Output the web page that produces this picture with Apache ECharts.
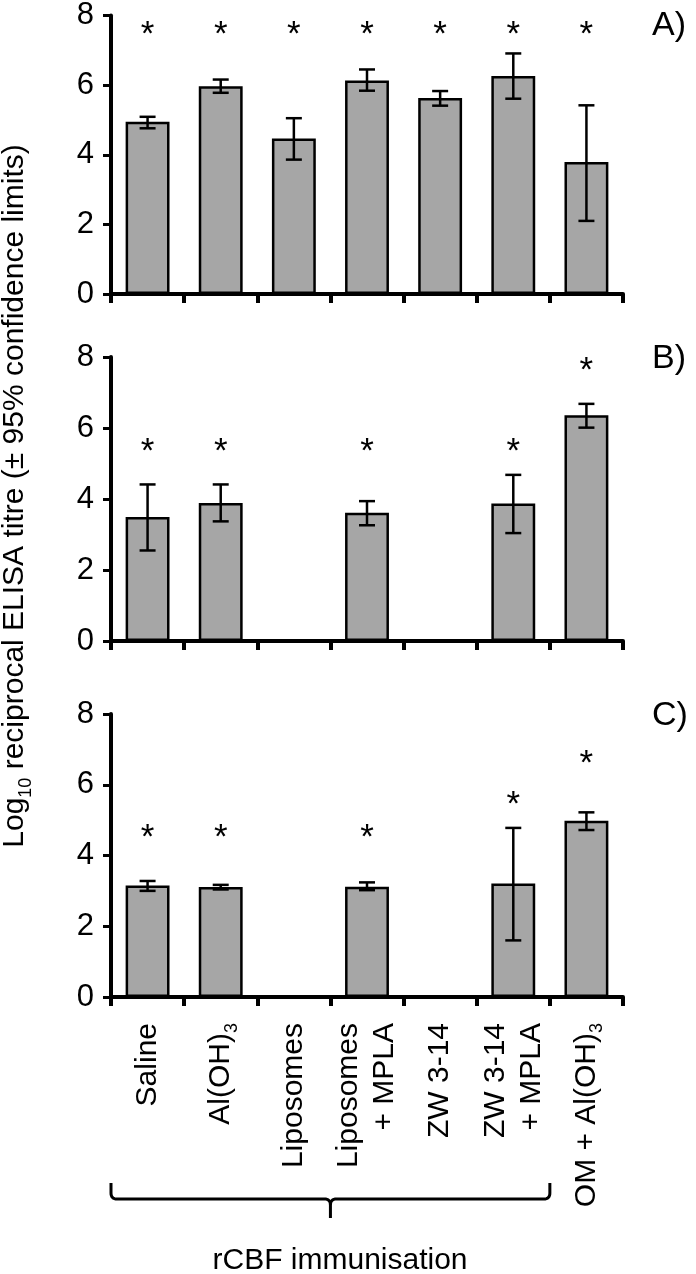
<!DOCTYPE html>
<html><head><meta charset="utf-8">
<script src="https://cdn.jsdelivr.net/npm/echarts@6/dist/echarts.min.js"></script>
<style>html,body{margin:0;padding:0;background:#fff}#c{width:696px;height:1274px}</style>
</head><body><div id="c"></div>
<script>
// ---- data ----
const categories = ['Saline', 'Al(OH)3', 'Liposomes', 'Liposomes\n+ MPLA', 'ZW 3-14', 'ZW 3-14\n+ MPLA', 'OM + Al(OH)3'];
const yTicks = [0, 2, 4, 6, 8];
const panelNames = ['A)', 'B)', 'C)'];
const yAxisTitle = 'Log{s|10} reciprocal ELISA titre (\u00b1 95% confidence limits)';
const groupTitle = 'rCBF immunisation';

const valuesA = [4.95, 5.97, 4.47, 6.13, 5.63, 6.26, 3.79];
const lowA    = [4.76, 5.78, 3.86, 5.84, 5.41, 5.61, 2.10];
const highA   = [5.09, 6.16, 5.05, 6.45, 5.83, 6.91, 5.42];
const starA   = [7.65, 7.65, 7.65, 7.65, 7.65, 7.65, 7.65];

const valuesB = [3.49, 3.89, null, 3.61, null, 3.87, 6.36];
const lowB    = [2.55, 3.37, null, 3.26, null, 3.04, 6.01];
const highB   = [4.41, 4.41, null, 3.94, null, 4.68, 6.68];
const starB   = [5.54, 5.54, null, 5.54, null, 5.54, 7.83];

const valuesC = [3.15, 3.11, null, 3.12, null, 3.21, 4.98];
const lowC    = [3.00, 3.04, null, 3.02, null, 1.60, 4.72];
const highC   = [3.28, 3.17, null, 3.24, null, 4.78, 5.22];
const starC   = [4.72, 4.72, null, 4.72, null, 5.64, 6.79];

const panels = [
  {values: valuesA, low: lowA, high: highA, star: starA},
  {values: valuesB, low: lowB, high: highB, star: starB},
  {values: valuesC, low: lowC, high: highC, star: starC}
];

// ---- layout ----
const FONT = 'Liberation Sans, Arial, sans-serif';
const gridLeft = 111, gridWidth = 512;
const grids = [
  {top: 13, height: 281},
  {top: 357, height: 284},
  {top: 714, height: 283}
];

const chart = echarts.init(document.getElementById('c'), null, {renderer: 'canvas'});

const subRich = {s: {fontSize: 18, fontFamily: FONT, color: '#000', verticalAlign: 'bottom', lineHeight: 40}};

const option = {
  animation: false,
  backgroundColor: '#fff',
  grid: grids.map(g => ({left: gridLeft, width: gridWidth, top: g.top, height: g.height, containLabel: false})),
  xAxis: grids.map((g, k) => ({
    type: 'category', gridIndex: k, data: categories,
    axisLine: {show: true, lineStyle: {color: '#000', width: 4}},
    axisTick: {show: true, interval: 0, length: 9, lineStyle: {color: '#000', width: 4}},
    axisLabel: {
      show: k === 2, interval: 0, rotate: 90, margin: 26,
      fontSize: 30, fontFamily: FONT, color: '#000', lineHeight: 36,
      formatter: v => v.replace(/\)3/g, '){s|3}'),
      rich: subRich
    },
    splitLine: {show: false}
  })),
  yAxis: grids.map((g, k) => ({
    type: 'value', gridIndex: k, min: 0, max: 8, interval: 2,
    axisLine: {show: true, lineStyle: {color: '#000', width: 4}},
    axisTick: {show: true, length: 8, lineStyle: {color: '#000', width: 3}},
    axisLabel: {show: true, fontSize: 31, fontFamily: FONT, color: '#000', margin: 17,
      formatter: v => (yTicks.indexOf(v) >= 0 ? String(v) : '')},
    splitLine: {show: false}
  })),
  series: []
};

panels.forEach((p, k) => {
  option.series.push({
    type: 'bar', xAxisIndex: k, yAxisIndex: k, barWidth: '60%',
    data: p.values.map(v => (v == null ? '-' : v)),
    itemStyle: {color: '#a6a6a6', borderColor: '#000', borderWidth: 2.5},
    silent: true, z: 2
  });
  const errData = [];
  p.low.forEach((lo, i) => { if (lo != null) errData.push([i, lo, p.high[i]]); });
  option.series.push({
    type: 'custom', xAxisIndex: k, yAxisIndex: k, z: 3, silent: true,
    data: errData, encode: {x: 0, y: [1, 2]},
    renderItem: function (params, api) {
      const i = api.value(0);
      const a = api.coord([i, api.value(2)]);
      const b = api.coord([i, api.value(1)]);
      const w = 8;
      const st = {stroke: '#000', lineWidth: 2.5};
      return {type: 'group', children: [
        {type: 'line', shape: {x1: a[0], y1: a[1], x2: b[0], y2: b[1]}, style: st},
        {type: 'line', shape: {x1: a[0] - w, y1: a[1], x2: a[0] + w, y2: a[1]}, style: st},
        {type: 'line', shape: {x1: b[0] - w, y1: b[1], x2: b[0] + w, y2: b[1]}, style: st}
      ]};
    }
  });
  const starData = [];
  p.star.forEach((s, i) => { if (s != null) starData.push([i, s]); });
  option.series.push({
    type: 'custom', xAxisIndex: k, yAxisIndex: k, z: 4, silent: true,
    data: starData, encode: {x: 0, y: 1},
    renderItem: function (params, api) {
      const c = api.coord([api.value(0), api.value(1)]);
      return {type: 'text', x: c[0], y: c[1] + 8,
        style: {text: '*', font: '35px ' + FONT, fill: '#000', align: 'center', verticalAlign: 'middle'}};
    }
  });
});

chart.setOption(option);

// decorations positioned from the axes
const c0 = chart.convertToPixel({xAxisIndex: 2}, categories[0]);
const c1 = chart.convertToPixel({xAxisIndex: 2}, categories[1]);
const c5 = chart.convertToPixel({xAxisIndex: 2}, categories[5]);
const step = c1 - c0;
const bl = c0 - step / 2, br = c5 + step / 2, bm = (bl + br) / 2;
const yTop = 1183, yH = 1199, yBot = 1218, r = 6;

function corner(x0, y0, cx, cy, x1, y1) {
  const pts = [];
  for (let t = 0; t <= 1.0001; t += 0.125) {
    const u = 1 - t;
    pts.push([u * u * x0 + 2 * u * t * cx + t * t * x1, u * u * y0 + 2 * u * t * cy + t * t * y1]);
  }
  return pts;
}
const leftArm = [[bl, yTop]].concat(corner(bl, yH - r, bl, yH, bl + r, yH), corner(bm - r, yH, bm, yH, bm, yH + r), [[bm, yBot]]);
const rightArm = [[br, yTop]].concat(corner(br, yH - r, br, yH, br - r, yH), corner(bm + r, yH, bm, yH, bm, yH + r));

const labelY = [26, 359, 716];
const graphics = panelNames.map((n, k) => ({
  type: 'text', x: 652, y: labelY[k],
  style: {text: n, font: '34px ' + FONT, fill: '#000', align: 'left', verticalAlign: 'middle'}
}));
graphics.push({
  type: 'text', x: 15, y: 496, rotation: Math.PI / 2,
  style: {text: yAxisTitle, font: '30px ' + FONT, fill: '#000', align: 'center', verticalAlign: 'middle',
    rich: {s: {fontSize: 18, fontFamily: FONT, fill: '#000', verticalAlign: 'bottom', lineHeight: 40}}}
});
graphics.push({
  type: 'text', x: 340, y: 1261,
  style: {text: groupTitle, font: '30px ' + FONT, fill: '#000', align: 'center', verticalAlign: 'middle'}
});
graphics.push({type: 'polyline', shape: {points: leftArm}, style: {stroke: '#000', lineWidth: 3, fill: null}});
graphics.push({type: 'polyline', shape: {points: rightArm}, style: {stroke: '#000', lineWidth: 3, fill: null}});
chart.setOption({graphic: graphics});
</script>
</body></html>
